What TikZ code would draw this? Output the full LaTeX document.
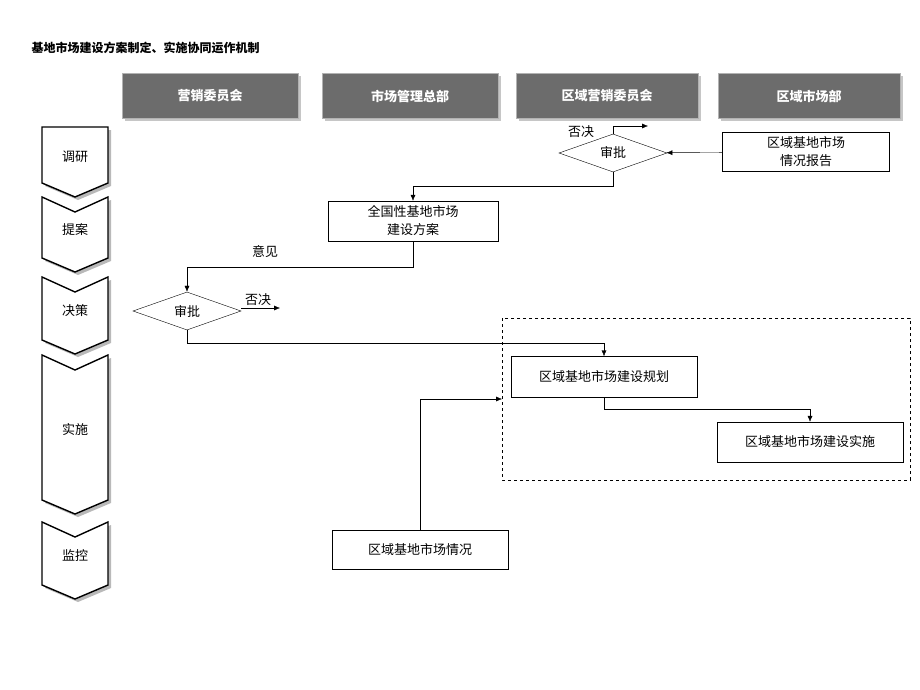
\documentclass[tikz,border=0pt]{standalone}
\usepackage{fontspec}
\setmainfont{Noto Sans CJK SC}
\usetikzlibrary{shapes.geometric,arrows.meta}
\tikzset{
  head/.style    = {draw=gray!60, fill=gray!85!black, text=white, font=\fontsize{13}{15}\selectfont\bfseries,
                    minimum height=45pt, inner sep=0pt},
  stage/.style   = {draw, line width=1.4pt, fill=white, line join=miter},
  box/.style     = {draw, fill=white, align=center, inner sep=0pt, font=\fontsize{13}{18}\selectfont},
  check/.style   = {draw, diamond, minimum width=108pt, minimum height=35pt, inner sep=0pt,
                    font=\fontsize{13}{15}\selectfont},
  lbl/.style     = {font=\fontsize{13}{15}\selectfont},
  flow/.style    = {-{Latex[length=6pt,width=5pt]}}
}
\begin{document}
\begin{tikzpicture}[x=1pt,y=-1pt]
\useasboundingbox (0,0) rectangle (920,690);
\node[anchor=west, font=\fontsize{12}{14}\selectfont\bfseries] (title) at (28,48) {基地市场建设方案制定、实施协同运作机制};
% column heads
\foreach \x/\w/\t [count=\i] in {210/176/营销委员会, 410/176/市场管理总部, 607/182/区域营销委员会, 809/182/区域市场部}{
  \fill[gray!45] (\x-\w/2+3,76) rectangle (\x+\w/2+3,121);
  \node[head, minimum width=\w pt] (h\i) at (\x,96) {\t};
}
% stages
\foreach \top/\bot/\t/\first in {127/183/调研/1, 197/258/提案/0, 277/340/决策/0, 355/500/实施/0, 522/585/监控/0}{
  \pgfmathsetmacro{\notch}{\first==1 ? \top : \top+15}
  \fill[gray!55] (45,\top+3) -- (75,\notch+3) -- (111,\top+3) -- (111,\bot+3) -- (78,\bot+17) -- (45,\bot+3) -- cycle;
  \draw[stage] (42,\top) -- (75,\notch) -- (108,\top) -- (108,\bot) -- (75,\bot+14) -- (42,\bot) -- cycle;
  \node[lbl] at (75,{(\top+\bot)/2+2}) {\t};
}
% nodes
\node[check] (chk1) at (613,153) {审批};
\node[box, minimum width=167pt, minimum height=39pt] (report) at (806,152) {区域基地市场\\情况报告};
\node[box, minimum width=170pt, minimum height=40pt] (plan) at (413,221) {全国性基地市场\\建设方案};
\node[check] (chk2) at (187,311) {审批};
\node[box, minimum width=186pt, minimum height=41pt] (layout) at (604,377) {区域基地市场建设规划};
\node[box, minimum width=186pt, minimum height=40pt] (impl) at (810,442) {区域基地市场建设实施};
\node[box, minimum width=176pt, minimum height=39pt] (state) at (420,550) {区域基地市场情况};
\draw[dashed] (502,318) rectangle (910,480);
\coordinate (edge) at (502,399);
\coordinate (rej1) at (648,126);
\coordinate (rej2) at (280,308);
% connectors
\draw[flow] (report) -- (chk1);
\draw[flow] (chk1.north) |- (rej1);
\node[lbl] at (581,132) {否决};
\draw[flow] (chk1.south) -- ++(0,14) -| (plan.north);
\draw[flow] (plan.south) -- ++(0,26) -| (chk2.north);
\node[lbl] at (265,251) {意见};
\draw[flow] (241,308) -- (rej2);
\node[lbl] at (258,300) {否决};
\draw[flow] (chk2.south) -- ++(0,13) -| (layout.north);
\draw[flow] (layout.south) -- ++(0,11) -| (impl.north);
\draw[flow] (state.north) |- (edge);
\end{tikzpicture}
\end{document}
